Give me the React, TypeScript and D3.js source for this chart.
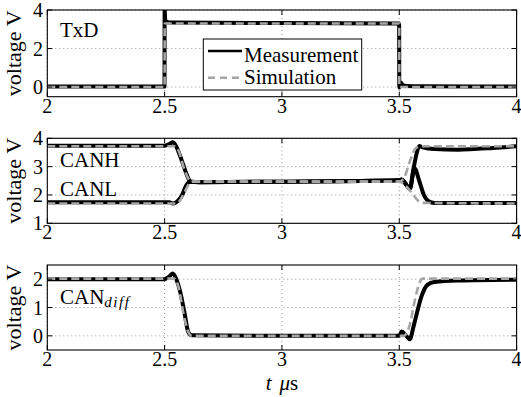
import React from "react";
import * as d3 from "d3";

// ---------- data ----------
const xTickValues = [2, 2.5, 3, 3.5, 4];
const xTickLabels = ["2", "2.5", "3", "3.5", "4"];

// Panel 1: TxD
const txdMeasT = [2, 2.4995, 2.5, 2.503, 2.51, 2.53, 3.0, 3.49, 3.4995, 3.5, 3.505, 3.515, 3.53, 3.6, 4];
const txdMeasV = [0.03, 0.03, 4.0, 3.45, 3.38, 3.35, 3.32, 3.3, 3.3, -0.02, 0.25, 0.1, 0.06, 0.04, 0.03];
const txdSimT = [2, 2.5, 2.5001, 3.5, 3.5001, 4];
const txdSimV = [0.0, 0.0, 3.3, 3.3, 0.0, 0.0];
const txdYTicks = [0, 2, 4];

// Panel 2: CANH / CANL
const canhMeasT = [2, 2.5, 2.52, 2.535, 2.55, 2.565, 2.58, 2.595, 2.61, 2.65, 3.0, 3.5, 3.51, 3.525, 3.545, 3.56, 3.575, 3.585, 3.6, 3.65, 3.75, 3.9, 4];
const canhMeasV = [3.74, 3.74, 3.8, 3.86, 3.7, 3.4, 3.05, 2.7, 2.48, 2.45, 2.47, 2.52, 2.55, 2.42, 2.22, 2.9, 3.5, 3.73, 3.68, 3.62, 3.6, 3.66, 3.72];
const canlMeasT = [2, 2.52, 2.535, 2.555, 2.575, 2.59, 2.605, 2.65, 3.0, 3.5, 3.51, 3.525, 3.545, 3.565, 3.585, 3.605, 3.625, 3.65, 4];
const canlMeasV = [1.74, 1.74, 1.7, 1.78, 2.0, 2.3, 2.46, 2.45, 2.47, 2.52, 2.55, 2.42, 2.22, 2.94, 2.5, 2.0, 1.78, 1.72, 1.72];
const canhSimT = [2, 2.54, 2.56, 2.58, 2.6, 2.615, 3.5, 3.52, 3.55, 3.57, 3.59, 4];
const canhSimV = [3.72, 3.72, 3.55, 3.0, 2.6, 2.47, 2.47, 2.6, 3.3, 3.65, 3.72, 3.72];
const canlSimT = [2, 2.55, 2.565, 2.585, 2.605, 2.62, 3.5, 3.53, 3.56, 3.58, 3.6, 4];
const canlSimV = [1.7, 1.7, 1.8, 2.1, 2.4, 2.47, 2.47, 2.3, 2.0, 1.8, 1.72, 1.7];
const canYTicks = [1, 2, 3, 4];

// Panel 3: CANdiff
const diffMeasT = [2, 2.5, 2.52, 2.535, 2.55, 2.565, 2.585, 2.6, 2.615, 3.0, 3.5, 3.51, 3.53, 3.545, 3.56, 3.575, 3.595, 3.62, 3.65, 3.75, 4];
const diffMeasV = [2.0, 2.0, 2.1, 2.2, 2.0, 1.6, 0.8, 0.15, 0.02, 0.0, 0.0, 0.15, 0.0, -0.12, 0.3, 0.8, 1.4, 1.8, 1.9, 1.95, 1.98];
const diffSimT = [2, 2.54, 2.56, 2.58, 2.6, 2.615, 3.52, 3.545, 3.565, 3.585, 3.6, 4];
const diffSimV = [2.02, 2.02, 1.7, 0.8, 0.15, 0.0, 0.0, 0.4, 1.2, 1.85, 2.02, 2.02];
const diffYTicks = [0, 1, 2];

// ---------- layout ----------
const W = 521;
const H = 397;
const FONT = "'Liberation Serif', 'DejaVu Serif', 'Times New Roman', Times, 'Nimbus Roman', FreeSerif, serif";
const TS: React.CSSProperties = { fontFamily: FONT };
const X0 = 47.3;
const X1 = 516.6;

const x = d3.scaleLinear().domain([2, 4]).range([X0, X1]);

type Series = { t: number[]; v: number[] };

function toPts(s: Series): [number, number][] {
  return s.t.map((t, i) => [t, s.v[i]]);
}

function Panel(props: {
  id: string;
  top: number;
  bottom: number;
  yDomain: [number, number];
  yTicks: number[];
  meas: Series[];
  sim: Series[];
  children?: React.ReactNode;
}) {
  const { id, top, bottom, yDomain, yTicks, meas, sim } = props;
  const y = d3.scaleLinear().domain(yDomain).range([bottom, top]);
  const line = d3
    .line<[number, number]>()
    .x((d) => x(d[0]))
    .y((d) => y(d[1]))
    .curve(d3.curveMonotoneX);
  const cy = (top + bottom) / 2;
  return (
    <g>
      <defs>
        <clipPath id={id}>
          <rect x={X0} y={top} width={X1 - X0} height={bottom - top} />
        </clipPath>
      </defs>
      <rect x={X0} y={top} width={X1 - X0} height={bottom - top} fill="#fff" />
      {xTickValues.map((t) => (
        <line key={"gx" + t} x1={x(t)} x2={x(t)} y1={top} y2={bottom} stroke="#7a7a7a" strokeWidth={0.8} strokeDasharray="1,3" />
      ))}
      {yTicks.map((t) => (
        <line key={"gy" + t} x1={X0} x2={X1} y1={y(t)} y2={y(t)} stroke="#7a7a7a" strokeWidth={0.8} strokeDasharray="1,3" />
      ))}
      <g clipPath={`url(#${id})`}>
        {meas.map((s, i) => (
          <path key={"m" + i} d={line(toPts(s)) || ""} fill="none" stroke="#000" strokeWidth={4} strokeLinejoin="round" />
        ))}
        {sim.map((s, i) => (
          <path key={"s" + i} d={line(toPts(s)) || ""} fill="none" stroke="#a6a6a6" strokeWidth={2.6} strokeDasharray="8,4" />
        ))}
      </g>
      {xTickValues.map((t) => (
        <g key={"tx" + t}>
          <line x1={x(t)} x2={x(t)} y1={top} y2={top + 5} stroke="#000" />
          <line x1={x(t)} x2={x(t)} y1={bottom} y2={bottom - 5} stroke="#000" />
        </g>
      ))}
      {yTicks.map((t) => (
        <g key={"ty" + t}>
          <line x1={X0} x2={X0 + 5} y1={y(t)} y2={y(t)} stroke="#000" />
          <line x1={X1} x2={X1 - 5} y1={y(t)} y2={y(t)} stroke="#000" />
          <text x={43} y={y(t)} dy="0.35em" textAnchor="end" fontSize={20} style={TS}>
            {String(t)}
          </text>
        </g>
      ))}
      <rect x={X0} y={top} width={X1 - X0} height={bottom - top} fill="none" stroke="#000" strokeWidth={1.1} />
      {xTickValues.map((t, i) => (
        <text key={"lx" + t} x={x(t)} y={bottom + 16} textAnchor="middle" fontSize={20} style={TS}>
          {xTickLabels[i]}
        </text>
      ))}
      <text transform={`translate(21,${cy}) rotate(-90)`} textAnchor="middle" fontSize={22} style={TS}>
        voltage V
      </text>
      {props.children}
    </g>
  );
}

export default function App() {
  return (
    <svg width={W} height={H} style={{ position: "absolute", left: 0, top: 0, background: "#fff", fontFamily: FONT }}>
      <rect x={0} y={0} width={W} height={H} fill="#fff" />
      <Panel
        id="c1"
        top={10}
        bottom={96.7}
        yDomain={[-0.5, 4]}
        yTicks={txdYTicks}
        meas={[{ t: txdMeasT, v: txdMeasV }]}
        sim={[{ t: txdSimT, v: txdSimV }]}
      >
        <text x={60} y={37} fontSize={21} style={TS}>TxD</text>
        <rect x={203.3} y={39} width={158.4} height={51} fill="#fff" stroke="#000" strokeWidth={1} />
        <line x1={208} x2={242} y1={51} y2={51} stroke="#000" strokeWidth={2.5} />
        <text x={244} y={61.5} fontSize={21} style={TS}>Measurement</text>
        <line x1={208} x2={242} y1={77.7} y2={77.7} stroke="#a6a6a6" strokeWidth={2.5} strokeDasharray="7,5" />
        <text x={244} y={83.5} fontSize={21} style={TS}>Simulation</text>
      </Panel>
      <Panel
        id="c2"
        top={138.3}
        bottom={223.3}
        yDomain={[1, 4]}
        yTicks={canYTicks}
        meas={[{ t: canhMeasT, v: canhMeasV }, { t: canlMeasT, v: canlMeasV }]}
        sim={[{ t: canhSimT, v: canhSimV }, { t: canlSimT, v: canlSimV }]}
      >
        <text x={60} y={166.7} fontSize={21} style={TS}>CANH</text>
        <text x={60} y={196} fontSize={21} style={TS}>CANL</text>
      </Panel>
      <Panel
        id="c3"
        top={265}
        bottom={350}
        yDomain={[-0.5, 2.5]}
        yTicks={diffYTicks}
        meas={[{ t: diffMeasT, v: diffMeasV }]}
        sim={[{ t: diffSimT, v: diffSimV }]}
      >
        <text x={60} y={303.5} fontSize={21} style={TS}>
          CAN
          <tspan fontStyle="italic" fontSize={15} dy={3} letterSpacing={1.5}>diff</tspan>
        </text>
      </Panel>
      <text x={282} y={390} textAnchor="middle" fontSize={21} style={TS}>
        <tspan fontStyle="italic">t</tspan>
        <tspan dx={8} fontStyle="italic">μ</tspan>
        <tspan>s</tspan>
      </text>
    </svg>
  );
}
